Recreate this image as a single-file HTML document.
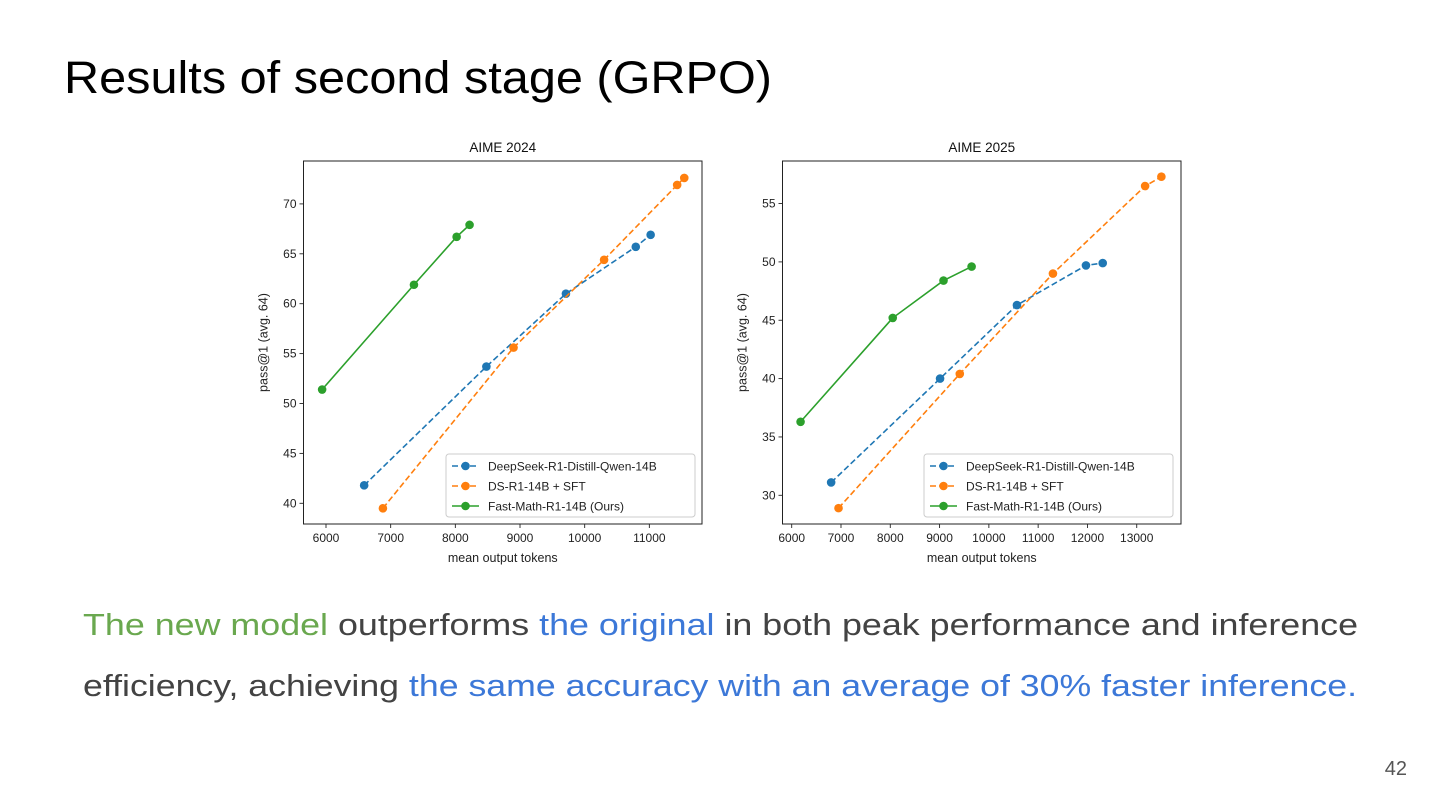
<!DOCTYPE html>
<html><head><meta charset="utf-8"><style>
html,body{margin:0;padding:0;background:#fff;}
svg{display:block;font-family:"Liberation Sans","DejaVu Sans",sans-serif;}
</style></head><body>
<svg id="root" width="1440" height="810" viewBox="0 0 1440 810" xmlns="http://www.w3.org/2000/svg">
<rect width="1440" height="810" fill="#fff"/>
<text x="64" y="93" font-size="45" fill="#000" textLength="708" lengthAdjust="spacingAndGlyphs">Results of second stage (GRPO)</text>
<g id="c1"></g>
<g id="c2"></g>
<text x="83" y="635" font-size="31" fill="#434343" textLength="1275" lengthAdjust="spacingAndGlyphs"><tspan fill="#6aa84f">The new model</tspan> outperforms <tspan fill="#3c78d8">the original</tspan> in both peak performance and inference</text>
<text x="83" y="696" font-size="31" fill="#434343" textLength="1274" lengthAdjust="spacingAndGlyphs">efficiency, achieving <tspan fill="#3c78d8">the same accuracy with an average of 30% faster inference.</tspan></text>
<text x="1407" y="775" font-size="20" fill="#555" text-anchor="end">42</text>
</svg>
<script>
// AIME 2024
const series24Names = ["DeepSeek-R1-Distill-Qwen-14B","DS-R1-14B + SFT","Fast-Math-R1-14B (Ours)"];
const blue24X = [6590,8480,9710,10790,11020];
const blue24Y = [41.8,53.7,61.0,65.7,66.9];
const orange24X = [6880,8900,10300,11430,11540];
const orange24Y = [39.5,55.6,64.4,71.9,72.6];
const green24X = [5940,7360,8020,8220];
const green24Y = [51.4,61.9,66.7,67.9];
const xTicks24 = [6000,7000,8000,9000,10000,11000];
const yTicks24 = [40,45,50,55,60,65,70];
// AIME 2025
const blue25X = [6800,9010,10570,11970,12310];
const blue25Y = [31.1,40.0,46.3,49.7,49.9];
const orange25X = [6950,9410,11300,13170,13500];
const orange25Y = [28.9,40.4,49.0,56.5,57.3];
const green25X = [6180,8050,9080,9650];
const green25Y = [36.3,45.2,48.4,49.6];
const xTicks25 = [6000,7000,8000,9000,10000,11000,12000,13000];
const yTicks25 = [30,35,40,45,50,55];

const NS="http://www.w3.org/2000/svg";
function mk(parent,tag,attrs,text){const e=document.createElementNS(NS,tag);for(const k in attrs)e.setAttribute(k,attrs[k]);if(text!==undefined)e.textContent=text;parent.appendChild(e);return e;}

function drawChart(g,opt){
  const sx=v=>opt.x0px+(v-opt.x0v)*opt.xs;
  const sy=v=>opt.y0px-(v-opt.y0v)*opt.ys;
  const L=opt.left,R=opt.right,T=161,B=524;
  const t=mk(g,'text',{x:(L+R)/2,y:152,'font-size':13.5,'text-anchor':'middle',fill:'#111'},opt.title);
  
  
  opt.xTicks.forEach(v=>{
    const x=sx(v);
    mk(g,'line',{x1:x,x2:x,y1:B,y2:B+4,stroke:'#222','stroke-width':0.9});
    const l=mk(g,'text',{x:x,y:B+18,'font-size':12,'text-anchor':'middle',fill:'#222'},v);
    
    
  });
  opt.yTicks.forEach(v=>{
    const y=sy(v);
    mk(g,'line',{x1:L-4,x2:L,y1:y,y2:y,stroke:'#222','stroke-width':0.9});
    const l=mk(g,'text',{x:L-7,y:y+4,'font-size':12,'text-anchor':'end',fill:'#222'},v);
    
    
  });
  const xt=mk(g,'text',{x:(L+R)/2,y:562,'font-size':12.5,'text-anchor':'middle',fill:'#222'},'mean output tokens');
  
  
  const yx=L-36,yy=(T+B)/2;
  const yt=mk(g,'text',{x:yx,y:yy,'font-size':12.5,'text-anchor':'middle',fill:'#222',transform:`rotate(-90 ${yx} ${yy})`},'pass@1 (avg. 64)');
  
  
  const cols=['#1f77b4','#ff7f0e','#2ca02c'];
  opt.series.forEach((s,i)=>{
    const pts=s.x.map((v,j)=>sx(v)+','+sy(s.y[j])).join(' ');
    const pl=mk(g,'polyline',{points:pts,fill:'none',stroke:cols[i],'stroke-width':1.6,'stroke-dasharray':i<2?'6,3':'none'});
    
    
    s.x.forEach((v,j)=>{
      const c=mk(g,'circle',{cx:sx(v),cy:sy(s.y[j]),r:4.3,fill:cols[i]});
      
      
    });
  });
  const box=mk(g,'rect',{x:L,y:T,width:R-L,height:B-T,fill:'none',stroke:'#222','stroke-width':1});
  
  
  const lg=mk(g,'g',{});
  
  
  const lx=opt.legX, ly=454;
  mk(lg,'rect',{x:lx,y:ly,width:249,height:63,rx:3,fill:'#fff','fill-opacity':0.85,stroke:'#ccc','stroke-width':1});
  series24Names.forEach((n,i)=>{
    const y=ly+12+i*20;
    mk(lg,'line',{x1:lx+6,x2:lx+33,y1:y,y2:y,stroke:cols[i],'stroke-width':1.6,'stroke-dasharray':i<2?'6,3':'none'});
    mk(lg,'circle',{cx:lx+19.5,cy:y,r:4.3,fill:cols[i]});
    const tt=mk(lg,'text',{x:lx+42,y:y+4.5,'font-size':12,fill:'#222'},n);
    
    
  });
}
drawChart(document.getElementById('c1'),{title:'AIME 2024',left:303.5,right:702,x0v:6000,x0px:326,xs:64.67/1000,y0v:40,y0px:503.3,ys:9.98,xTicks:xTicks24,yTicks:yTicks24,legX:446,
 series:[{x:blue24X,y:blue24Y},{x:orange24X,y:orange24Y},{x:green24X,y:green24Y}]});
drawChart(document.getElementById('c2'),{title:'AIME 2025',left:782.5,right:1181,x0v:6000,x0px:791.7,xs:49.29/1000,y0v:30,y0px:495.3,ys:11.67,xTicks:xTicks25,yTicks:yTicks25,legX:924,
 series:[{x:blue25X,y:blue25Y},{x:orange25X,y:orange25Y},{x:green25X,y:green25Y}]});
</script>
</body></html>
